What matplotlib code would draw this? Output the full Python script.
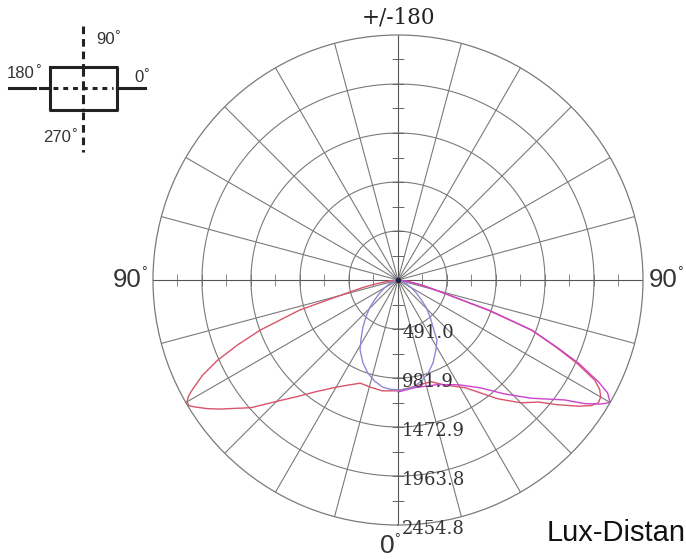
import numpy as np
import matplotlib
matplotlib.use('Agg')
import matplotlib.pyplot as plt

# --- data (angles in degrees from nadir, negative = left half; values in lux) ---
ring_values = [491.0, 981.9, 1472.9, 1963.8, 2454.8]
ring_labels = ['491.0', '981.9', '1472.9', '1963.8', '2454.8']

red_ang = [-90, -85, -80, -78, -76, -73, -70, -68, -66, -64, -62, -61, -60, -59, -58, -56, -54, -52, -49, -45,
           -41, -36, -30, -25, -20, -15, -8, 0,
           8, 11, 18, 24, 32, 40, 45, 49, 52, 55, 57, 58.5, 60, 61.5, 63, 65, 67, 69.5, 71.5, 74.5, 78, 82, 90]
red_val = [0, 60, 230, 350, 500, 1030, 1470, 1730, 1980, 2180, 2330, 2400, 2440, 2445, 2400, 2305, 2200, 2090, 1950, 1720,
           1550, 1380, 1240, 1160, 1100, 1108, 1122, 1110,
           1080, 1072, 1072, 1152, 1273, 1553, 1740, 1864, 2030, 2204, 2310, 2355, 2345, 2300, 2214, 1984, 1720, 1423, 952, 447, 240, 90, 0]

mag_ang = [0, 9, 21, 30, 37.5, 43, 48.4, 54.3, 56.5, 58.6, 60, 61.7, 63, 65.2, 67, 69.4, 71.6, 74, 78, 82, 90]
mag_val = [1122, 1092, 1122, 1212, 1363, 1560, 1784, 2060, 2245, 2385, 2455, 2385, 2260, 2000, 1740, 1440, 970, 470, 250, 95, 0]

blue_ang = [-90, -80, -75, -70, -65, -60, -55, -50, -46, -41, -36.7, -32, -28.5, -23, -18, -13, -8, -4, 0,
            4, 8, 13, 18, 23, 28.5, 33, 36.7, 41, 46, 50, 55, 60, 65, 70, 75, 80, 90]
blue_val = [0, 15, 35, 62, 100, 150, 220, 300, 390, 490, 587, 700, 797, 900, 980, 1040, 1085, 1098, 1100,
            1098, 1085, 1040, 980, 900, 797, 717, 587, 490, 390, 300, 220, 150, 100, 62, 35, 15, 0]

rmax = ring_values[-1]
grid_c = '#7a7a7a'

fig = plt.figure(figsize=(6.86, 5.59), dpi=100)

# --- polar chart ---
ax = fig.add_axes([0.2230, 0.0608, 0.7143, 0.8766], projection='polar')
ax.set_theta_zero_location('S')
ax.set_theta_direction(1)
ax.set_ylim(0, rmax)
ax.set_xticks([])
ax.set_yticks([])
ax.grid(False)
ax.spines['polar'].set_color(grid_c)
ax.spines['polar'].set_linewidth(0.9)

th = np.linspace(0, 2 * np.pi, 721)
for r in ring_values[:-1]:
    ax.plot(th, np.full_like(th, r), color=grid_c, lw=0.8)
for a in range(0, 360, 15):
    c = '#555555' if a % 90 == 0 else grid_c
    ax.plot([np.radians(a)] * 2, [0, rmax], color=c, lw=0.8)

# small ticks on the main axes every half ring
half = rmax / 10
tick_r = [half * k for k in range(1, 10)]
for a, m in [(0, '_'), (180, '_'), (90, '|'), (270, '|')]:
    ax.plot([np.radians(a)] * len(tick_r), tick_r, ls='none', marker=m,
            ms=8, mew=0.55, color='#666666')

ax.plot(np.radians(red_ang), red_val, color='#d9546a', lw=1.0)
ax.plot(np.radians(mag_ang), mag_val, color='#cc44cc', lw=1.0)
ax.plot(np.radians(blue_ang), blue_val, color='#8a8ad8', lw=1.0)
ax.plot([0], [0], marker='o', ms=3, color='#222244')

for v, lab in zip(ring_values, ring_labels):
    ax.annotate(lab, xy=(0, v), xytext=(3, -3), textcoords='offset points',
                ha='left', va='center', fontsize=13, family='DejaVu Serif',
                color='#333333')


def deg_label(x, y, s, size, ha='left'):
    t = fig.text(x / 686, 1 - y / 559, s, ha=ha, va='center', fontsize=size,
                 family='Liberation Sans', color='#333333')
    return t


# angle labels
fig.text(398 / 686, 1 - 18 / 559, '+/-180', ha='center', va='center',
         fontsize=15.5, family='DejaVu Serif', color='#222222')
deg_label(142, 280, '90', 18.5, ha='right')
deg_label(141, 272, '°', 10)
deg_label(649, 280, '90', 18.5)
deg_label(677, 272, '°', 10)
deg_label(380, 546, '0', 19)
deg_label(394, 539, '°', 10)
fig.text(547 / 686, 1 - 533 / 559, 'Lux-Distan', ha='left', va='center',
         fontsize=21, family='Liberation Sans', color='#111111')

# --- orientation sketch (top-left) ---
ins = fig.add_axes([0, 1 - 170 / 559, 180 / 686, 170 / 559])
ins.set_xlim(0, 180)
ins.set_ylim(170, 0)
ins.axis('off')
k = '#222222'
ins.plot([50, 117, 117, 50, 50], [67, 67, 110, 110, 67], color=k, lw=2.2)
ins.plot([83, 83], [26, 66], color=k, lw=2.2, ls=(0, (2.5, 1.6)))
ins.plot([83, 83], [112, 152], color=k, lw=2.2, ls=(0, (2.5, 1.6)))
ins.plot([83, 83], [67, 110], color=k, lw=2.2, ls=(0, (3, 1.5)))
ins.plot([53, 113], [88, 88], color=k, lw=2.2, ls=(0, (1.6, 1.6)))
ins.plot([9, 35], [88, 88], color=k, lw=2.2)
ins.plot([40, 48], [88, 88], color=k, lw=2.2)
ins.plot([117, 145], [88, 88], color=k, lw=2.2)
for x, y, s in [(96, 39, '90'), (7, 73, '180'), (134, 77, '0'), (43, 137, '270')]:
    t = ins.text(x, y, s, ha='left', va='center', fontsize=12,
                 family='Liberation Sans', color='#333333')
    ins.annotate('°', xy=(1, 1), xycoords=t, xytext=(0, 1.5),
                 textcoords='offset points', ha='left', va='top',
                 fontsize=10, family='Liberation Sans', color='#333333')

fig.savefig('out.png', dpi=100)
